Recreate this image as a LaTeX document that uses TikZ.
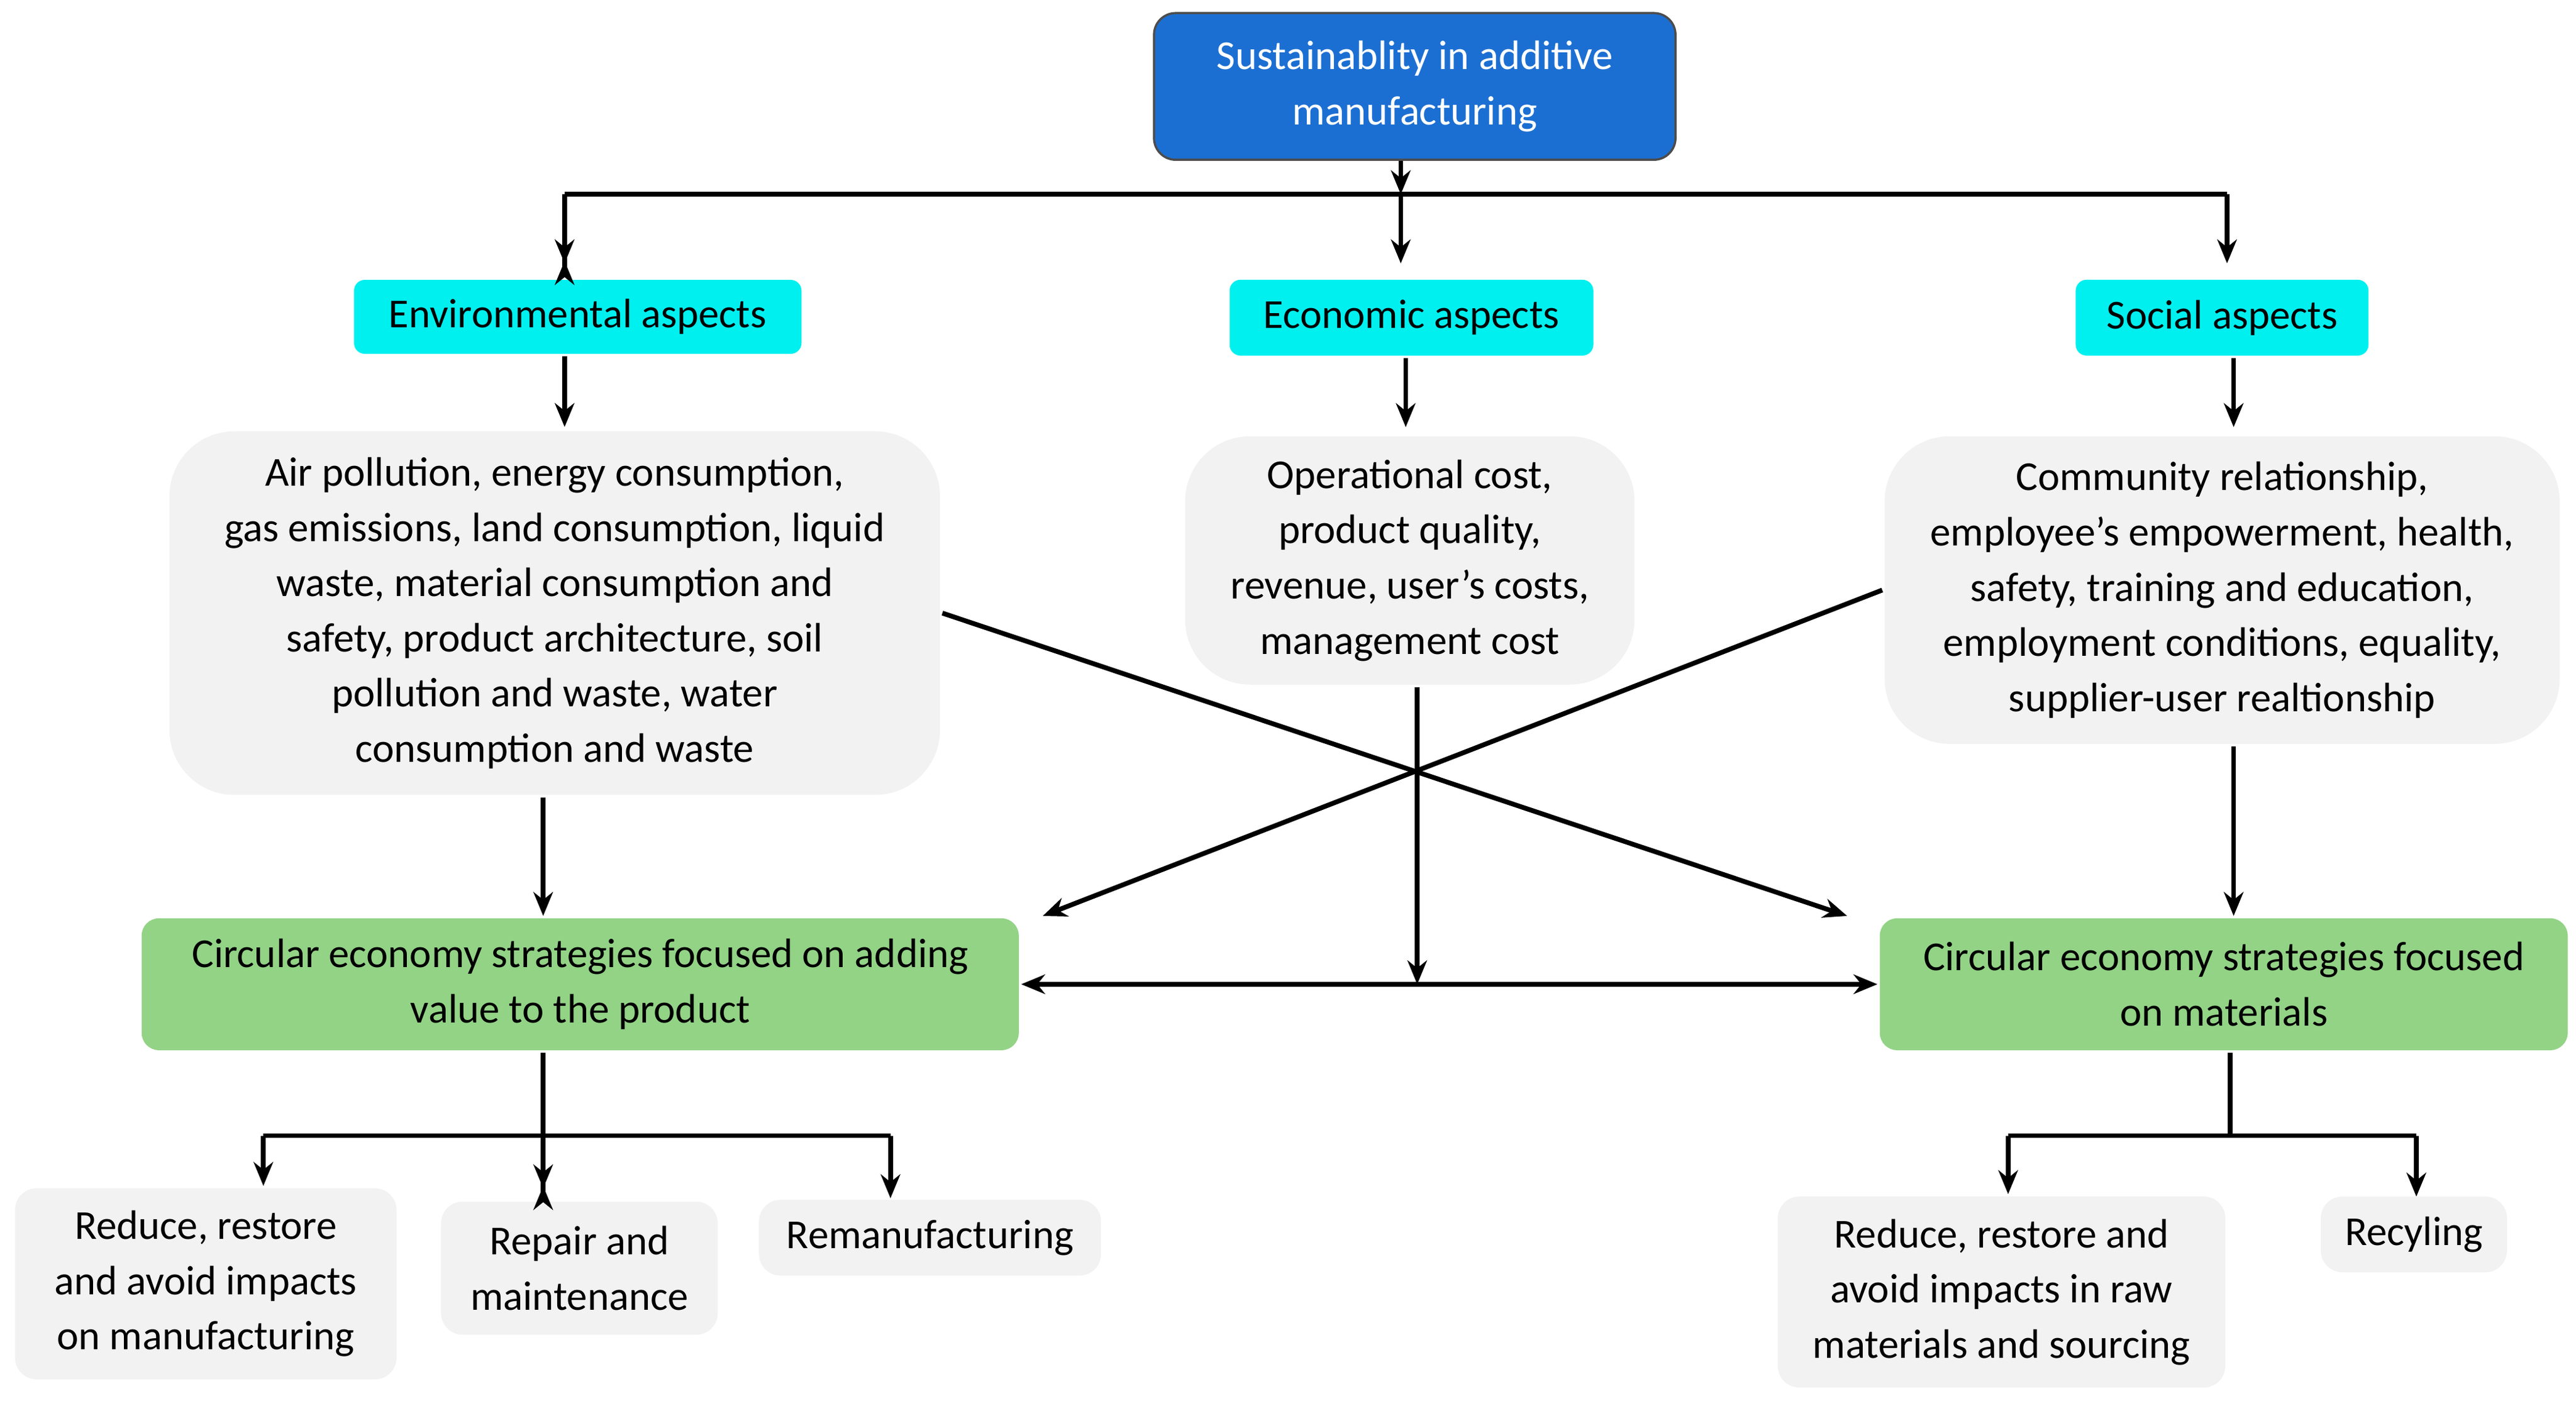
\documentclass[tikz,border=0pt]{standalone}
\usepackage{fontspec}
\setmainfont{Carlito}
\usetikzlibrary{arrows.meta}
\definecolor{topblue}{HTML}{1C6FD2}
\definecolor{aspcyan}{HTML}{00F0F0}
\definecolor{boxgrey}{HTML}{F2F2F2}
\definecolor{stratgreen}{HTML}{93D386}
\begin{document}
\begin{tikzpicture}[x=0.0267cm, y=-0.0267cm, line width=2.2pt, >={Stealth[length=11pt,width=9pt]},
    every node/.style={font=\fontsize{19}{25.5}\selectfont, align=center, inner sep=2pt}]
    \tikzstyle{topbox}=[draw=black!70, line width=1pt, fill=topblue, text=white, rounded corners=10pt]
    \tikzstyle{aspect}=[fill=aspcyan, rounded corners=5pt]
    \tikzstyle{detail}=[fill=boxgrey, rounded corners=30pt]
    \tikzstyle{strategy}=[fill=stratgreen, rounded corners=8pt]
    \tikzstyle{leaf}=[fill=boxgrey, rounded corners=10pt]

    \useasboundingbox (0,0) rectangle (1565,851);

    % Top
    \node[topbox, minimum width=8.46cm, minimum height=2.38cm] (top) at (859.5,52.5) {Sustainablity in additive\\manufacturing};

    % Aspects
    \node[aspect, minimum width=7.26cm, minimum height=1.2cm] (env) at (351,192.5) {Environmental aspects};
    \node[aspect, minimum width=5.9cm, minimum height=1.23cm] (econ) at (857.5,193) {Economic aspects};
    \node[aspect, minimum width=4.75cm, minimum height=1.23cm] (soc) at (1350,193) {Social aspects};

    % Details
    \node[detail, minimum width=12.5cm, minimum height=5.9cm] (envd) at (337,372.5) {Air pollution, energy consumption,\\gas emissions, land consumption, liquid\\waste, material consumption and\\safety, product architecture, soil\\pollution and waste, water\\consumption and waste};
    \node[detail, minimum width=7.29cm, minimum height=4.03cm] (econd) at (856.5,340.5) {Operational cost,\\product quality,\\revenue, user’s costs,\\management cost};
    \node[detail, minimum width=10.95cm, minimum height=4.99cm] (socd) at (1350,358.5) {Community relationship,\\employee’s empowerment, health,\\safety, training and education,\\employment conditions, equality,\\supplier-user realtionship};

    % Strategies
    \node[strategy, minimum width=14.23cm, minimum height=2.14cm] (prod) at (352.5,598) {Circular economy strategies focused on adding\\value to the product};
    \node[strategy, minimum width=11.16cm, minimum height=2.14cm] (mat) at (1351,598) {Circular economy strategies focused\\on materials};

    % Leaves
    \node[leaf, minimum width=6.19cm, minimum height=3.1cm] (manu) at (125,780) {Reduce, restore\\and avoid impacts\\on manufacturing};
    \node[leaf, minimum width=4.49cm, minimum height=2.16cm] (repair) at (352,770.5) {Repair and\\maintenance};
    \node[leaf, minimum width=5.55cm, minimum height=1.23cm] (reman) at (565,752) {Remanufacturing};
    \node[leaf, minimum width=7.26cm, minimum height=3.1cm] (raw) at (1216,785) {Reduce, restore and\\avoid impacts in raw\\materials and sourcing};
    \node[leaf, minimum width=3.02cm, minimum height=1.23cm] (recyc) at (1466.5,750) {Recyling};

    % Junctions
    \coordinate (t) at (851,118);
    \coordinate (tl) at (343,118);
    \coordinate (tr) at (1353,118);
    \coordinate (pl) at (160,690);
    \coordinate (pm) at (330,690);
    \coordinate (pr) at (541,690);
    \coordinate (ml) at (1220,690);
    \coordinate (mm) at (1355,690);
    \coordinate (mr) at (1468,690);

    % Top to aspects
    \draw[->] (top.south -| t) -- (t);
    \draw (tl) -- (tr);
    \draw[->] (tl) -- (tl |- env.north) ++(0,-10);
    \draw[->] (tl) -- ++(0,42);
    \draw[->] (t) -- ++(0,42);
    \draw[->] (tr) -- ++(0,42);

    % Aspects to details
    \draw[->] (env.south -| tl) -- ++(0,43);
    \draw[->] (econ.south -| 854,0) -- ++(0,42);
    \draw[->] (soc.south -| 1357,0) -- ++(0,42);

    % Details to strategies
    \draw[->] (envd.south -| pm) -- (prod.north -| pm);
    \draw[->] (socd.south -| 1357,0) -- (mat.north -| 1357,0);
    \draw[->] (econd.south -| 861,0) -- (prod.east -| 861,0);
    \draw[->] (envd.east) -- ([xshift=-14]mat.north west);
    \draw[->] (socd.west) -- ([xshift=10]prod.north east);
    \draw[<->] (prod.east) -- (mat.west);

    % Strategies to leaves
    \draw (prod.south -| pm) -- (pm);
    \draw (pl) -- (pr);
    \draw[->] (pl) -- (pl |- manu.north);
    \draw[->] (pm) -- (pm |- repair.north) ++(0,-8);
    \draw[->] (pm) -- ++(0,32);
    \draw[->] (pr) -- ++(0,38);
    \draw (mat.south -| mm) -- (mm);
    \draw (ml) -- (mr);
    \draw[->] (ml) -- (ml |- raw.north);
    \draw[->] (mr) -- ++(0,37);
\end{tikzpicture}
\end{document}
